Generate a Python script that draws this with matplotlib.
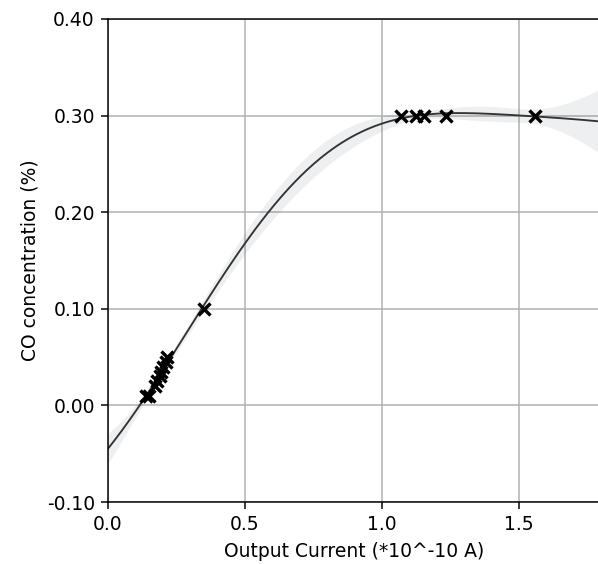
import numpy as np
import matplotlib
matplotlib.use('Agg')
import matplotlib.pyplot as plt

# calibration points: sensor output current vs. CO concentration
current = [0.14, 0.15, 0.17, 0.18, 0.19, 0.195, 0.20, 0.21, 0.215,
           0.35, 1.07, 1.125, 1.155, 1.235, 1.56]
co_conc = [0.01, 0.01, 0.02, 0.025, 0.03, 0.035, 0.04, 0.045, 0.05,
           0.10, 0.30, 0.30, 0.30, 0.30, 0.30]

x = np.array(current)
y = np.array(co_conc)


def rbf(a, b, length=0.7):
    return np.exp(-0.5 * (a[:, None] - b[None, :]) ** 2 / length ** 2)


# gaussian process regression on normalised targets
y_mean, y_std = y.mean(), y.std()
yn = (y - y_mean) / y_std
noise = 1e-3
K = rbf(x, x) + noise * np.eye(len(x))
xs = np.linspace(0.0, 1.8, 300)
Ks = rbf(xs, x)
alpha = np.linalg.solve(K, yn)
ys = Ks @ alpha * y_std + y_mean
var = 1.0 - np.einsum('ij,ji->i', Ks, np.linalg.solve(K, Ks.T))
band = 1.96 * np.sqrt(np.clip(var, 0, None)) * y_std

dpi = 135
fig = plt.figure(figsize=(598 / dpi, 564 / dpi), dpi=dpi)
ax = fig.add_axes([108 / 598, 62 / 564, 493 / 598, 483 / 564])

ax.fill_between(xs, ys - band, ys + band, color='#2f3a45', alpha=0.08, linewidth=0)
ax.plot(xs, ys, color='#333333', linewidth=1)
ax.plot(x, y, 'x', color='black', markersize=6, markeredgewidth=1.8)

ax.set_xlim(0, 1.8)
ax.set_ylim(-0.1, 0.4)
ax.set_xticks([0.0, 0.5, 1.0, 1.5])
ax.set_yticks(np.arange(-0.1, 0.41, 0.1))
ax.yaxis.set_major_formatter(plt.FormatStrFormatter('%.2f'))
ax.grid(True)
ax.set_axisbelow(True)
ax.set_xlabel('Output Current (*10^-10 A)')
ax.set_ylabel('CO concentration (%)')

fig.savefig('out.png', dpi=dpi)
